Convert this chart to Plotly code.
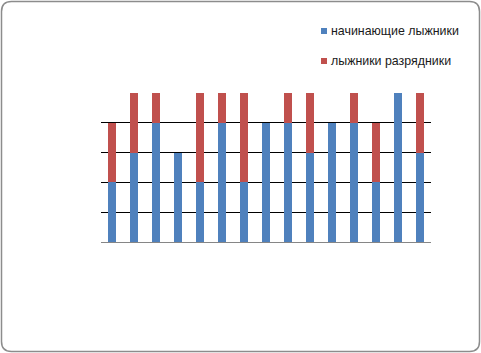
import plotly.graph_objects as go

categories = [str(i) for i in range(1, 16)]
beginners = [2, 3, 4, 3, 2, 4, 2, 4, 4, 3, 4, 4, 2, 5, 3]
ranked = [2, 2, 1, 0, 3, 1, 3, 0, 1, 2, 0, 1, 2, 0, 2]
series_names = ["начинающие лыжники", "лыжники разрядники"]
series_colors = ["#4F81BD", "#C0504D"]

W, H = 481, 353
L, R, T, B = 101, 431, 93, 242
pw, ph = R - L, B - T

def px(x):
    return (x - L) / pw

def py(y):
    return (B - y) / ph

fig = go.Figure()
for vals, name, col in zip([beginners, ranked], series_names, series_colors):
    fig.add_trace(go.Bar(x=categories, y=vals, name=name,
                         marker=dict(color=col, line=dict(width=0)),
                         hoverinfo="skip", showlegend=False))

# rounded border
x0, y0, x1, y1, r = 1.5, 1.5, 479.5, 351.5, 10
path = (f"M {px(x0 + r)},{py(y0)} L {px(x1 - r)},{py(y0)} "
        f"Q {px(x1)},{py(y0)} {px(x1)},{py(y0 + r)} "
        f"L {px(x1)},{py(y1 - r)} Q {px(x1)},{py(y1)} {px(x1 - r)},{py(y1)} "
        f"L {px(x0 + r)},{py(y1)} Q {px(x0)},{py(y1)} {px(x0)},{py(y1 - r)} "
        f"L {px(x0)},{py(y0 + r)} Q {px(x0)},{py(y0)} {px(x0 + r)},{py(y0)} Z")

shapes = [dict(type="path", xref="paper", yref="paper", path=path,
               line=dict(color="#8C8C8C", width=1.5), layer="above")]
annotations = []
legend_y = [31, 61]
for name, col, yc in zip(series_names, series_colors, legend_y):
    shapes.append(dict(type="rect", xref="paper", yref="paper",
                       x0=px(321), x1=px(327), y0=py(yc - 3), y1=py(yc + 3),
                       fillcolor=col, line=dict(width=0)))
    annotations.append(dict(text=name, xref="paper", yref="paper",
                            x=px(329), y=py(yc), xanchor="left", yanchor="middle",
                            showarrow=False, font=dict(size=12.4, color="#1A1A1A")))

fig.update_layout(
    width=W, height=H,
    margin=dict(l=L, r=W - R, t=T, b=H - B, pad=0),
    barmode="stack", bargap=0.63,
    plot_bgcolor="white", paper_bgcolor="white",
    font=dict(family="Liberation Sans, Arial, sans-serif", size=12, color="#000000"),
    showlegend=False,
    xaxis=dict(showticklabels=False, showgrid=False, zeroline=False,
               showline=False, ticks=""),
    yaxis=dict(range=[0, 5], dtick=1, showticklabels=False, showgrid=True,
               gridcolor="#000000", gridwidth=1, zeroline=True,
               zerolinecolor="#868686", zerolinewidth=1, showline=False, ticks=""),
    shapes=shapes,
    annotations=annotations,
    hovermode=False,
)

fig.write_html("out.html")
